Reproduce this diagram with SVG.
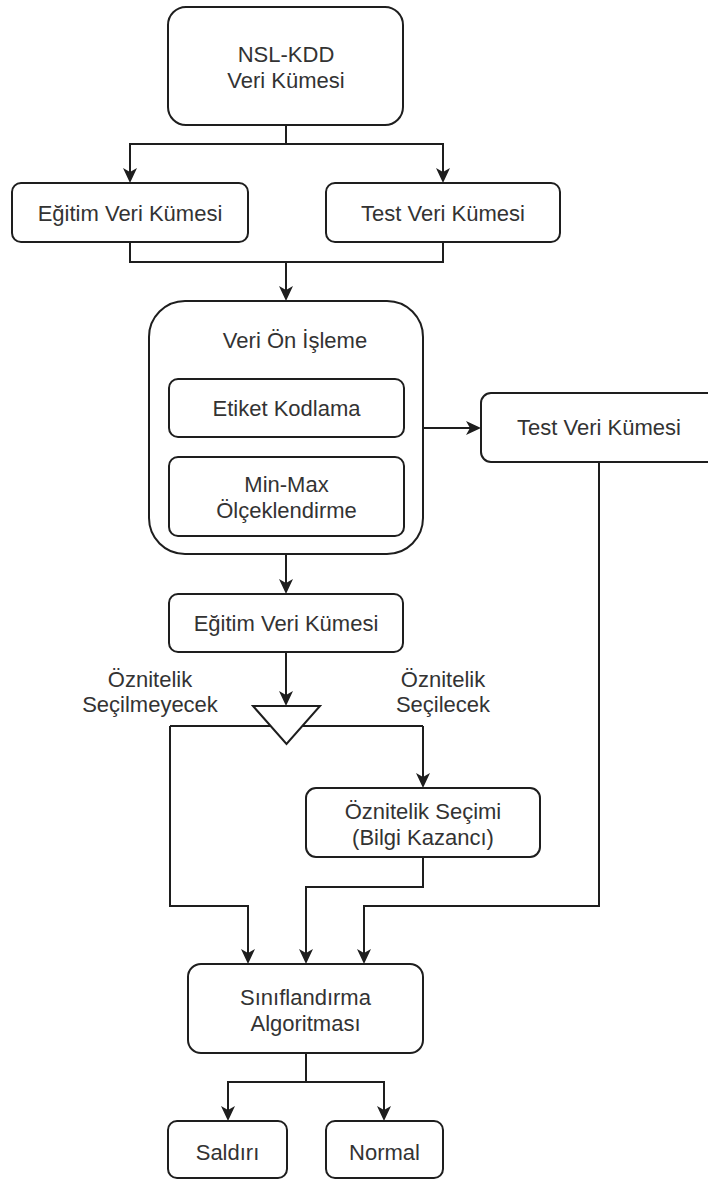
<svg xmlns="http://www.w3.org/2000/svg" width="708" height="1180" viewBox="0 0 708 1180">
  <style>
    .box { fill: #ffffff; stroke: #1e1e1e; stroke-width: 2; }
    .lbl { font-family: "Liberation Sans", Arial, sans-serif; font-size: 22px; fill: #333333; text-anchor: middle; }
    .edge { fill: none; stroke: #1e1e1e; stroke-width: 2; }
    .arr { marker-end: url(#head); }
  </style>
  <defs>
    <!-- classic notched arrowhead; line ends at the notch, tip sits 11px further -->
    <marker id="head" viewBox="-5 -8 17 16" refX="0" refY="0" markerWidth="17" markerHeight="16" markerUnits="userSpaceOnUse" orient="auto">
      <path d="M11,0 L-4,-7 L0,0 L-4,7 Z" fill="#1e1e1e"/>
    </marker>
  </defs>

  <rect width="708" height="1180" fill="#ffffff"/>

  <!-- connectors -->
  <g id="connectors">
    <path class="edge arr" d="M286,125 V144 H130 V172"/>
    <path class="edge arr" d="M286,144 H443 V172"/>
    <path class="edge" d="M130,242 V262 H443 V242"/>
    <path class="edge arr" d="M286,262 V290"/>
    <path class="edge arr" d="M423,428 H470"/>
    <path class="edge arr" d="M286,554 V583"/>
    <path class="edge arr" d="M286,652 V695"/>
    <path class="edge" d="M170,726 H423"/>
    <path class="edge arr" d="M170,726 V906 H248 V953"/>
    <path class="edge arr" d="M423,726 V777"/>
    <path class="edge arr" d="M423,857 V887 H306 V953"/>
    <path class="edge arr" d="M599,462 V906 H364 V953"/>
    <path class="edge arr" d="M306,1053 V1082 H228 V1110"/>
    <path class="edge arr" d="M306,1082 H384 V1110"/>
  </g>

  <g id="nsl-kdd">
    <rect class="box" x="168" y="7" width="235" height="118" rx="18"/>
    <text class="lbl" x="286" y="62">NSL-KDD</text>
    <text class="lbl" x="286" y="88">Veri Kümesi</text>
  </g>

  <g id="egitim-1">
    <rect class="box" x="12" y="183" width="236" height="59" rx="9"/>
    <text class="lbl" x="130" y="221">Eğitim Veri Kümesi</text>
  </g>

  <g id="test-1">
    <rect class="box" x="326" y="183" width="234" height="59" rx="9"/>
    <text class="lbl" x="443" y="221">Test Veri Kümesi</text>
  </g>

  <g id="on-isleme">
    <rect class="box" x="149" y="301" width="274" height="253" rx="36"/>
    <text class="lbl" x="295" y="348">Veri Ön İşleme</text>
  </g>

  <g id="etiket">
    <rect class="box" x="169" y="379" width="235" height="58" rx="9"/>
    <text class="lbl" x="286.5" y="416">Etiket Kodlama</text>
  </g>

  <g id="minmax">
    <rect class="box" x="169" y="457" width="235" height="79" rx="9"/>
    <text class="lbl" x="286.5" y="492">Min-Max</text>
    <text class="lbl" x="286.5" y="518">Ölçeklendirme</text>
  </g>

  <g id="test-2">
    <rect class="box" x="481" y="393" width="240" height="69" rx="10"/>
    <text class="lbl" x="599" y="435">Test Veri Kümesi</text>
  </g>

  <g id="egitim-2">
    <rect class="box" x="169" y="594" width="234" height="58" rx="9"/>
    <text class="lbl" x="286" y="631">Eğitim Veri Kümesi</text>
  </g>

  <g id="karar">
    <polygon class="box" points="253,706 320,706 286.5,744"/>
  </g>

  <g id="etiket-sol">
    <text class="lbl" x="150" y="687">Öznitelik</text>
    <text class="lbl" x="150" y="712">Seçilmeyecek</text>
  </g>

  <g id="etiket-sag">
    <text class="lbl" x="443" y="687">Öznitelik</text>
    <text class="lbl" x="443" y="712">Seçilecek</text>
  </g>

  <g id="oznitelik-secimi">
    <rect class="box" x="306" y="788" width="234" height="69" rx="10"/>
    <text class="lbl" x="423" y="819">Öznitelik Seçimi</text>
    <text class="lbl" x="423" y="845">(Bilgi Kazancı)</text>
  </g>

  <g id="siniflandirma">
    <rect class="box" x="188" y="964" width="235" height="89" rx="13"/>
    <text class="lbl" x="305.5" y="1005">Sınıflandırma</text>
    <text class="lbl" x="305.5" y="1031">Algoritması</text>
  </g>

  <g id="saldiri">
    <rect class="box" x="168" y="1121" width="119" height="57" rx="9"/>
    <text class="lbl" x="227.5" y="1160">Saldırı</text>
  </g>

  <g id="normal">
    <rect class="box" x="326" y="1121" width="117" height="57" rx="9"/>
    <text class="lbl" x="384.5" y="1160">Normal</text>
  </g>
</svg>
